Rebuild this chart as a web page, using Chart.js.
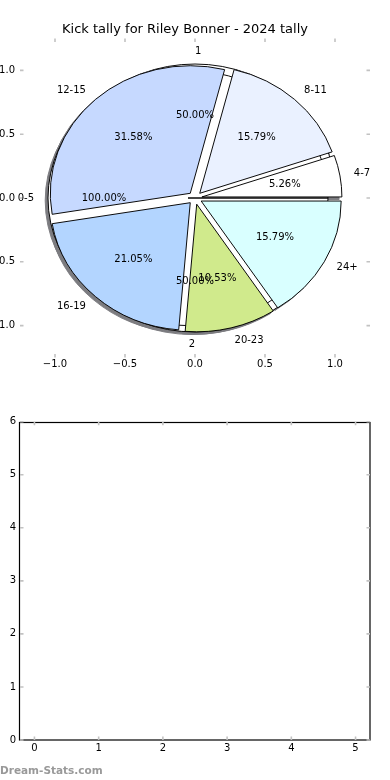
<!DOCTYPE html>
<html><head><meta charset="utf-8">
<script src="https://cdn.jsdelivr.net/npm/chart.js@4.4.1/dist/chart.umd.min.js"></script>
<style>
html,body{margin:0;padding:0;background:#fff;}
body{width:390px;height:780px;position:relative;overflow:hidden;}
canvas{position:absolute;left:0;}
#wm{position:absolute;left:0;top:762px;font:bold 10.5px "DejaVu Sans",sans-serif;color:#999;line-height:16px;white-space:nowrap;}
</style></head><body>
<canvas id="pieAxes" width="390" height="396" style="top:0"></canvas>
<canvas id="shadowRound" width="390" height="396" style="top:0"></canvas>
<canvas id="shadowBucket" width="390" height="396" style="top:0"></canvas>
<canvas id="shadowKick" width="390" height="396" style="top:0"></canvas>
<canvas id="roundPie" width="390" height="396" style="top:0"></canvas>
<canvas id="bucketPie" width="390" height="396" style="top:0"></canvas>
<canvas id="kickPie" width="390" height="396" style="top:0"></canvas>
<canvas id="emptyChart" width="390" height="384" style="top:396px"></canvas>
<div id="wm">Dream-Stats.com</div>
<script>
// ---------- data ----------
const chartTitle = 'Kick tally for Riley Bonner - 2024 tally';
const kickCategories = ['4-7', '8-11', '12-15', '16-19', '20-23', '24+'];
const kickCounts = [1, 3, 6, 4, 2, 3];
const roundLabels = ['1', '2'];
const roundCounts = [1, 1];
const bucketLabels = ['0-5'];
const bucketCounts = [1];
const pieTickValues = [-1, -0.5, 0, 0.5, 1];
const pieTickLabels = ['\u22121.0', '\u22120.5', '0.0', '0.5', '1.0'];
const emptyXTicks = [0, 1, 2, 3, 4, 5];
const emptyYTicks = [0, 1, 2, 3, 4, 5, 6];

// ---------- styles ----------
const kickColors = ['#ffffff', '#eaf1ff', '#c6d9ff', '#b3d5ff', '#d0ea8c', '#d9ffff'];
const roundColors = ['#ffffff', '#ffffff'];
const bucketColors = ['#ffffff'];
const FONT = '"DejaVu Sans", sans-serif';
const EXPLODE = 0.05, LABEL_DIST = 1.1, PCT_DIST = 0.6;
const SHADOW_COLOR = '#7c7c80';
const SHADOW_OX = -0.02, SHADOW_OY = -0.02;
const TICK_COLOR = '#c2c2c2';

Chart.defaults.font.family = FONT;
Chart.defaults.animation = false;

const innerTicks = {
  id: 'innerTicks',
  afterDraw(chart, args, opts) {
    const {ctx, chartArea: a} = chart;
    const xs = chart.scales.x, ys = chart.scales.y;
    ctx.save();
    if (opts.frame) {
      ctx.strokeStyle = '#000';
      ctx.lineWidth = 1.2;
      ctx.strokeRect(Math.round(a.left) - 0.5, Math.round(a.top) + 0.5,
        Math.round(a.right) - Math.round(a.left) + 0.5, Math.round(a.bottom) - Math.round(a.top) - 0.5);
    }
    ctx.strokeStyle = TICK_COLOR;
    ctx.lineWidth = 1.6;
    const L = 3.5;
    ctx.beginPath();
    xs.ticks.forEach(t => {
      const p = xs.getPixelForValue(t.value);
      ctx.moveTo(p, a.top); ctx.lineTo(p, a.top + L);
      ctx.moveTo(p, a.bottom); ctx.lineTo(p, a.bottom - L);
    });
    ys.ticks.forEach(t => {
      const p = ys.getPixelForValue(t.value);
      ctx.moveTo(a.left, p); ctx.lineTo(a.left + L, p);
      ctx.moveTo(a.right, p); ctx.lineTo(a.right - L, p);
    });
    ctx.stroke();
    ctx.restore();
  }
};

function tickScale(values, labels, extra) {
  return Object.assign({
    type: 'linear',
    afterBuildTicks: s => { s.ticks = values.map(v => ({value: v})); },
    ticks: {
      color: '#000', font: {size: 10}, maxRotation: 0, autoSkip: false,
      callback: (v, i) => labels ? labels[i] : String(v)
    },
    grid: {display: false, drawTicks: false},
    border: {display: false}
  }, extra);
}

// ---------- pie axes ----------
const pieAxes = new Chart(document.getElementById('pieAxes'), {
  type: 'scatter',
  data: {datasets: []},
  options: {
    responsive: false, animation: false, devicePixelRatio: 1,
    layout: {padding: {right: 20}},
    plugins: {
      legend: {display: false}, tooltip: {enabled: false},
      title: {display: true, text: chartTitle, color: '#000',
        font: {size: 13, weight: 'normal', family: FONT}, padding: {top: 22.2, bottom: 0.7}},
      innerTicks: {frame: false}
    },
    scales: {
      x: tickScale(pieTickValues, pieTickLabels, {min: -1.25, max: 1.25, afterFit: s => { s.height = 38.5; }}),
      y: tickScale(pieTickValues, pieTickLabels, {min: -1.25, max: 1.25, afterFit: s => { s.width = 20; }})
    }
  },
  plugins: [innerTicks]
});
pieAxes.options.scales.x.ticks.padding = 1;
pieAxes.options.scales.y.ticks.padding = 5;
pieAxes.update();

const PA = pieAxes.chartArea;
const PX = pieAxes.scales.x, PY = pieAxes.scales.y;
const RADIUS = PX.getPixelForValue(1) - PX.getPixelForValue(0);
const SCALE_Y = (PY.getPixelForValue(0) - PY.getPixelForValue(1)) / RADIUS;

const explodePie = {
  id: 'explodePie',
  beforeDatasetDraw(chart, args, opts) {
    const ctx = chart.ctx;
    args.meta.data.forEach(arc => {
      if (!(arc.endAngle - arc.startAngle > 0)) return;
      const mid = (arc.startAngle + arc.endAngle) / 2;
      const d = EXPLODE * arc.outerRadius;
      ctx.save();
      ctx.translate(arc.x + opts.shiftX, arc.y + opts.shiftY);
      ctx.scale(1, SCALE_Y);
      ctx.translate(Math.cos(mid) * d - arc.x, Math.sin(mid) * d - arc.y);
      arc.draw(ctx);
      ctx.restore();
    });
    return false;
  }
};

const labelSources = [];
const pieLabels = {
  id: 'pieLabels',
  afterDraw(chart) {
    const ctx = chart.ctx;
    ctx.save();
    ctx.font = '10px ' + FONT;
    ctx.fillStyle = '#000';
    ctx.textBaseline = 'middle';
    labelSources.forEach(src => {
      const meta = src.getDatasetMeta(0);
      const vals = src.data.datasets[0].data;
      const total = vals.reduce((s, v) => s + v, 0);
      meta.data.forEach((arc, i) => {
        const mid = (arc.startAngle + arc.endAngle) / 2;
        const c = Math.cos(mid), s = Math.sin(mid);
        const R = arc.outerRadius;
        const ld = (LABEL_DIST + EXPLODE) * R, pd = (PCT_DIST + EXPLODE) * R;
        const align = Math.abs(c) < 1e-9 ? (s < 0 ? 'left' : 'right') : (c > 0 ? 'left' : 'right');
        ctx.textAlign = align;
        ctx.fillText(src.data.labels[i], arc.x + ld * c, arc.y + ld * s * SCALE_Y);
        ctx.textAlign = 'center';
        ctx.fillText((vals[i] / total * 100).toFixed(2) + '%', arc.x + pd * c, arc.y + pd * s * SCALE_Y);
      });
    });
    ctx.restore();
  }
};

function makePie(id, labels, values, colors, shadow, withLabels) {
  const rev = arr => arr.slice().reverse();
  const W = 390, H = 396;
  const plugins = [explodePie];
  if (withLabels) plugins.push(pieLabels);
  return new Chart(document.getElementById(id), {
    type: 'pie',
    data: {
      labels: rev(labels),
      datasets: [{
        data: rev(values),
        backgroundColor: shadow ? SHADOW_COLOR : rev(colors),
        borderColor: shadow ? SHADOW_COLOR : '#000',
        borderWidth: 1
      }]
    },
    options: {
      responsive: false, animation: false, devicePixelRatio: 1,
      rotation: 90, radius: RADIUS,
      layout: {padding: {left: PA.left, top: PA.top, right: W - PA.right, bottom: H - PA.bottom}},
      plugins: {
        legend: {display: false}, tooltip: {enabled: false},
        explodePie: {
          shiftX: shadow ? SHADOW_OX * RADIUS : 0,
          shiftY: shadow ? -SHADOW_OY * RADIUS * SCALE_Y : 0
        }
      }
    },
    plugins
  });
}

makePie('shadowRound', roundLabels, roundCounts, roundColors, true, false);
makePie('shadowBucket', bucketLabels, bucketCounts, bucketColors, true, false);
makePie('shadowKick', kickCategories, kickCounts, kickColors, true, false);
const roundPie = makePie('roundPie', roundLabels, roundCounts, roundColors, false, false);
const bucketPie = makePie('bucketPie', bucketLabels, bucketCounts, bucketColors, false, false);
labelSources.push(roundPie, bucketPie);
const kickPie = makePie('kickPie', kickCategories, kickCounts, kickColors, false, true);
labelSources.push(kickPie);
kickPie.draw();

// ---------- empty lower chart ----------
new Chart(document.getElementById('emptyChart'), {
  type: 'scatter',
  data: {datasets: []},
  options: {
    responsive: false, animation: false, devicePixelRatio: 1,
    layout: {padding: {top: 25.7, right: 20}},
    plugins: {legend: {display: false}, tooltip: {enabled: false}, innerTicks: {frame: true}},
    scales: {
      x: tickScale(emptyXTicks, null, {min: -0.225, max: 5.225, afterFit: s => { s.height = 40; }}),
      y: tickScale(emptyYTicks, null, {min: 0, max: 6, afterFit: s => { s.width = 20; }})
    }
  },
  plugins: [innerTicks]
}).options;
(function () {
  const ch = Chart.getChart('emptyChart');
  ch.options.scales.x.ticks.padding = 2;
  ch.options.scales.y.ticks.padding = 4;
  ch.update();
})();
</script>
</body></html>
